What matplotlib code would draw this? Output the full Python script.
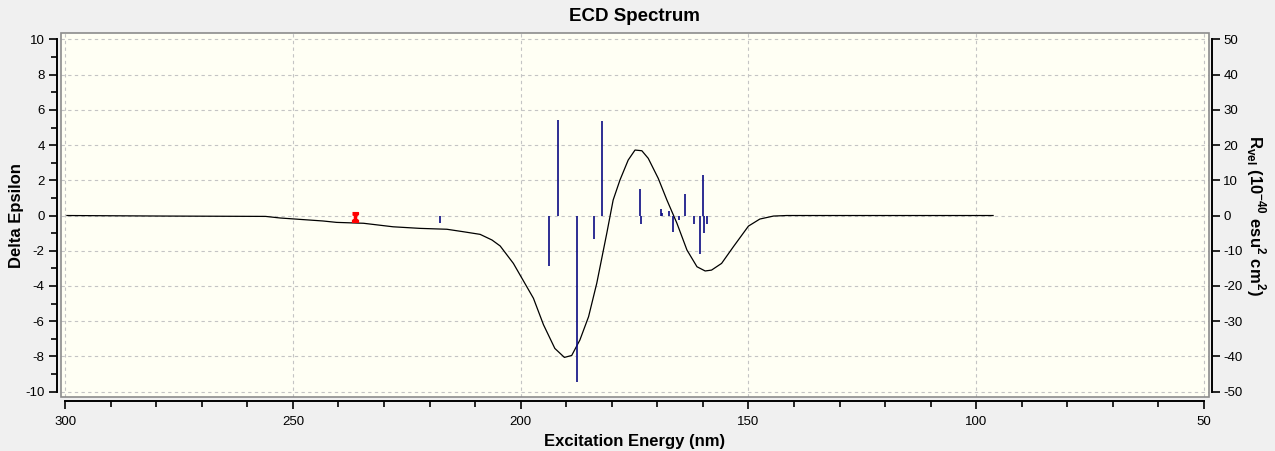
import matplotlib
matplotlib.use('Agg')
import matplotlib.pyplot as plt
from matplotlib.patches import Rectangle
from matplotlib.ticker import MultipleLocator

plt.rcParams['font.family'] = ['Liberation Sans', 'DejaVu Sans']
plt.rcParams['axes.unicode_minus'] = False
plt.rcParams['mathtext.fontset'] = 'custom'
plt.rcParams['mathtext.rm'] = 'Liberation Sans:bold'
plt.rcParams['mathtext.bf'] = 'Liberation Sans:bold'

# ---- data ----
# broadened ECD curve (wavelength nm, delta epsilon)
curve_nm = [299.6, 278.5, 256.0, 252.8, 248.4, 243.4, 240.4, 234.5, 228.0, 222.1,
            216.2, 212.6, 208.9, 206.3, 204.5, 201.6, 197.2, 195.0, 192.5, 190.4,
            188.8, 187.0, 185.1, 183.3, 181.1, 179.7, 178.2, 176.4, 174.9, 173.4,
            172.0, 169.8, 167.9, 165.7, 163.5, 161.3, 159.5, 158.1, 155.9, 153.3,
            150.0, 147.5, 144.5, 141.6, 96.3]
curve_de = [0.0, -0.03, -0.05, -0.14, -0.22, -0.31, -0.39, -0.44, -0.64, -0.73,
            -0.78, -0.92, -1.07, -1.39, -1.73, -2.72, -4.7, -6.2, -7.55, -8.06,
            -7.95, -7.07, -5.75, -3.85, -1.01, 0.88, 2.02, 3.15, 3.72, 3.68,
            3.25, 2.11, 0.88, -0.44, -1.96, -2.91, -3.15, -3.1, -2.72, -1.77,
            -0.6, -0.2, -0.03, 0.0, 0.0]

# rotatory strengths (wavelength nm, R_vel in 1e-40 esu^2 cm^2)
stick_nm = [217.7, 193.7, 191.9, 187.6, 183.8, 182.1, 173.9, 173.5, 169.3, 168.9,
            167.4, 166.5, 165.3, 163.9, 161.9, 160.6, 159.9, 159.7, 159.2]
stick_r = [-2.2, -14.3, 27.1, -47.2, -6.8, 26.8, 7.5, -2.5, 1.8, 0.6,
           1.4, -4.6, -1.3, 6.1, -2.5, -11.0, 11.5, -5.1, -2.5]

# selected-peak marker
mark_nm = [236.4]
mark_de = [-0.1]

x_ticks = [300, 250, 200, 150, 100, 50]
y_ticks = [-10, -8, -6, -4, -2, 0, 2, 4, 6, 8, 10]
r_ticks = [-50, -40, -30, -20, -10, 0, 10, 20, 30, 40, 50]

# ---- figure ----
fig = plt.figure(figsize=(12.75, 4.51), dpi=100, facecolor='#F0F0F0')
ax = fig.add_axes([0.0475, 0.1197, 0.9005, 0.8064])
ax.set_facecolor('#FFFFF4')

ax.set_xlim(301.0, 48.97)
ax.set_ylim(-10.31, 10.35)

ax.plot(curve_nm, curve_de, color='black', lw=0.9, zorder=3)

hourglass = [(-0.6, 1), (0.6, 1), (0.6, 0.6), (0.22, 0.35), (0.22, -0.35), (0.6, -0.6),
             (0.6, -1), (-0.6, -1), (-0.6, -0.6), (-0.22, -0.35), (-0.22, 0.35), (-0.6, 0.6)]
ax.plot(mark_nm, mark_de, linestyle='none', marker=hourglass, markersize=7,
        color='#FF0000', zorder=5)

# grid
ax.set_xticks(x_ticks)
ax.set_yticks(y_ticks)
ax.xaxis.set_minor_locator(MultipleLocator(10))
ax.yaxis.set_minor_locator(MultipleLocator(1))
ax.grid(True, which='major', linestyle=(0, (3, 3)), color='#C4C4C4', lw=0.8)
ax.set_axisbelow(True)

# grey plot frame
ax.add_patch(Rectangle((0, 0), 1, 1, transform=ax.transAxes, fill=False,
                       edgecolor='#8C8C8C', lw=1.2, zorder=6, clip_on=False))

for s in ['top', 'right']:
    ax.spines[s].set_visible(False)
ax.spines['left'].set_position(('outward', 2.5))
ax.spines['left'].set_bounds(-10, 10)
ax.spines['bottom'].set_position(('outward', 3))
ax.spines['bottom'].set_bounds(300, 50)
for s in ['left', 'bottom']:
    ax.spines[s].set_linewidth(1.4)

ax.tick_params(which='major', direction='out', length=6, width=1.2, labelsize=9.5)
ax.tick_params(which='minor', direction='out', length=4, width=1.2)
ax.tick_params(axis='y', pad=3)
ax.tick_params(axis='x', pad=5)

ax.set_xlabel('Excitation Energy (nm)', fontsize=12, fontweight='bold', labelpad=4)
ax.set_ylabel('Delta Epsilon', fontsize=12, fontweight='bold', labelpad=1)
ax.set_title('ECD Spectrum', fontsize=13.5, fontweight='bold', pad=9)

# right axis with the sticks
ax2 = ax.twinx()
ax2.set_ylim(-10.31 * 5, 10.35 * 5)
ax2.vlines(stick_nm, 0, stick_r, color='#0A0A82', lw=1.2, zorder=2)
ax2.set_yticks(r_ticks)
for s in ['top', 'left', 'bottom']:
    ax2.spines[s].set_visible(False)
ax2.spines['right'].set_position(('outward', 2.5))
ax2.spines['right'].set_bounds(-50, 50)
ax2.spines['right'].set_linewidth(1.4)
ax2.tick_params(axis='y', direction='out', length=6, width=1.2, labelsize=9.5, pad=2)
ax2.set_ylabel(r'R$_{\mathbf{vel}}$ (10$^{\mathbf{-40}}$ esu$^{\mathbf{2}}$ cm$^{\mathbf{2}}$)',
               fontsize=12, fontweight='bold', rotation=270, labelpad=18)

fig.savefig('out.png', dpi=100, facecolor=fig.get_facecolor())
